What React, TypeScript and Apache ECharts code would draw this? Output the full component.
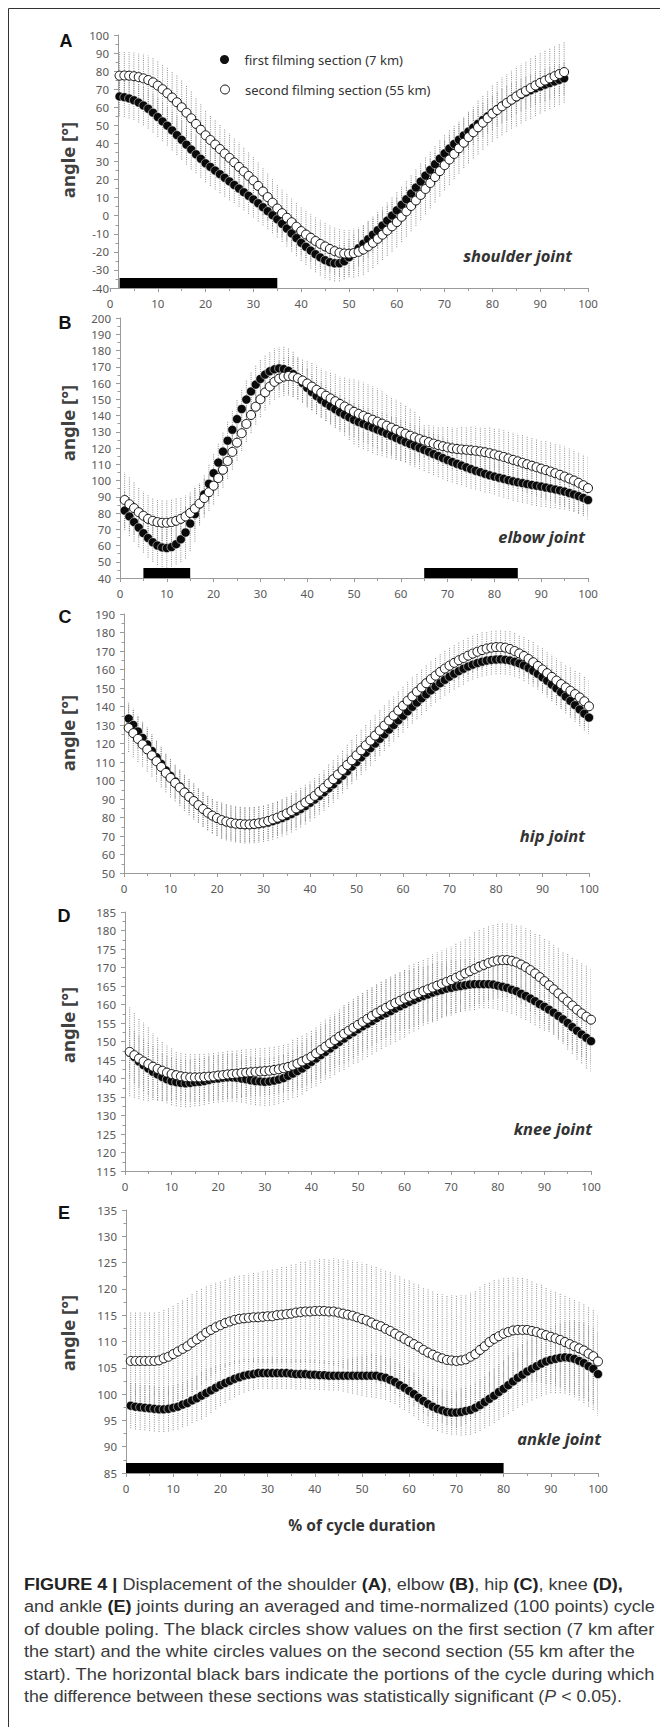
import React, { useEffect, useRef } from "react";
import * as echarts from "echarts";

// ---------------- DATA ----------------
const NAME_FIRST = "first filming section (7 km)";
const NAME_SECOND = "second filming section (55 km)";

// x positions start (each array holds one value per % of cycle)
const SHOULDER_X0 = 2;
const OTHER_X0 = 1;

const xTicks = [0, 10, 20, 30, 40, 50, 60, 70, 80, 90, 100];

// Shoulder (A)
const shoulderFirst = [
  66, 65.6, 64.9, 63.9, 62.6, 61, 59.2, 57, 54.6, 52.2,
  49.8, 47.2, 44.6, 42, 39.3, 36.6, 34, 31.5, 29, 27,
  25, 23, 21, 19, 17, 15, 13, 11, 9, 6.9,
  4.7, 2.5, 0.3, -2, -4.5, -7.1, -9.8, -12.4, -15, -17.2,
  -19.3, -21.3, -23.1, -24.6, -25.7, -26.3, -26.3, -25.2, -23, -20.5,
  -18, -15.5, -13, -10.5, -8, -5.4, -2.7, 0.1, 3, 6,
  9.1, 12.3, 15.6, 18.9, 22.2, 25.4, 28.5, 31.6, 34.5, 37.2,
  39.7, 42.1, 44.4, 46.6, 48.8, 50.9, 53, 55, 57, 58.9,
  60.7, 62.4, 64, 65.5, 66.9, 68.2, 69.4, 70.5, 71.5, 72.5,
  73.4, 74.3, 75.2, 76,
];
const shoulderSecond = [
  77.5, 77.6, 77.5, 77.2, 76.7, 76, 75.1, 73.8, 72, 70,
  67.8, 65.4, 62.8, 60, 57, 53.9, 50.8, 47.6, 44.5, 41.9,
  39.4, 36.9, 34.4, 32, 29.5, 27, 24.5, 22, 19.5, 16.5,
  13.4, 10.3, 7.2, 4, 1.4, -1.1, -3.6, -6.1, -8.5, -10.4,
  -12.2, -14, -15.6, -17, -18.4, -19.6, -20.5, -20.9, -21, -20.7,
  -20, -18.7, -17, -15, -12.8, -10.5, -8.2, -5.9, -3.5, -0.6,
  2.4, 5.4, 8.4, 11.5, 14.8, 18.1, 21.4, 24.7, 28, 31.1,
  34.2, 37.3, 40.4, 43.5, 46.2, 48.9, 51.5, 54, 56.5, 58.5,
  60.5, 62.4, 64.2, 66, 67.6, 69.1, 70.6, 72.1, 73.5, 74.8,
  76, 77.2, 78.4, 79.5,
];
const shoulderSdFirst = [
  11, 11, 11, 11, 11, 11, 11, 11, 11, 11,
  11, 11, 11, 11, 11, 11, 10.5, 10.5, 10.5, 10.5,
  10.5, 10.5, 10.5, 10.5, 10, 10, 10, 10, 10, 10,
  10, 10, 10, 10, 10, 10, 10, 10, 10, 10,
  10, 10, 10, 10, 10, 10, 10, 10, 10, 10,
  10, 10, 10, 10, 10, 10, 10, 10, 10, 10,
  10, 10, 10, 10, 10, 10, 10, 10, 10, 10,
  10, 10, 10, 10, 9.5, 9.5, 9.5, 9.5, 9.5, 9.5,
  9.5, 9.5, 9.5, 9, 9, 9, 9, 9, 9, 9,
  9, 9, 9, 9,
];
const shoulderSdSecond = [
  13, 13, 13, 13, 13, 13.5, 13.5, 14, 14, 14,
  14.5, 14.5, 15, 15, 15, 15, 14.5, 14.5, 14, 14,
  14, 14, 14, 13.5, 13.5, 13.5, 13.5, 13, 13, 13,
  13, 13, 13, 13, 13, 13, 13, 13, 13, 13,
  13, 13, 13, 13, 13, 13, 13, 13, 13, 13.5,
  13.5, 14, 14, 14, 14, 14, 14, 14, 14, 14,
  14, 14, 14, 14, 14, 14, 14, 14, 14, 14,
  14, 14, 14, 14.5, 14.5, 15, 15, 15, 15.5, 15.5,
  16, 16, 16, 16.5, 16.5, 16.5, 17, 17, 17, 17,
  17, 17, 17, 17,
];
const shoulderSignificant = [[2, 35]];

// Elbow (B)
const elbowFirst = [
  81.5, 77.9, 74.4, 71, 67.6, 64.6, 62, 60, 58.8, 58.4,
  59, 60.8, 63.8, 68, 73.5, 79.3, 85.3, 91.5, 98, 104.5,
  111, 117.8, 124.5, 131.2, 137.8, 144, 149.8, 154.8, 159, 162.5,
  165.2, 167.2, 168.4, 169, 168.6, 167.5, 165.5, 163, 160, 157,
  154.4, 152, 149.7, 147.6, 145.6, 143.8, 142, 140.4, 138.8, 137.3,
  136, 134.8, 133.6, 132.5, 131.3, 130.1, 128.8, 127.5, 126.2, 124.9,
  123.7, 122.4, 121.2, 120, 118.8, 117.6, 116.3, 115.1, 113.8, 112.6,
  111.4, 110.3, 109.2, 108.1, 107, 106, 105.1, 104.1, 103.2, 102.4,
  101.7, 101, 100.2, 99.5, 98.9, 98.4, 97.8, 97.3, 96.8, 96.3,
  95.7, 95.1, 94.5, 93.9, 93.2, 92.3, 91.4, 90.4, 89.3, 88,
];
const elbowSecond = [
  88, 85.4, 83, 80.5, 78.3, 76.4, 75.2, 74.4, 74, 74,
  74.4, 75.2, 76.4, 77.9, 80, 82.7, 85.8, 89.2, 92.8, 96.8,
  101.5, 106.6, 112, 117.6, 123.3, 129.1, 134.8, 140.3, 145.4, 150,
  154.2, 157.8, 160.7, 162.7, 163.9, 164.3, 164, 163, 161.5, 159.7,
  157.8, 155.8, 154, 152.2, 150.5, 148.8, 147.1, 145.5, 143.9, 142.3,
  141, 139.8, 138.6, 137.4, 136.2, 135, 133.7, 132.5, 131.2, 130,
  128.8, 127.6, 126.5, 125.5, 124.5, 123.6, 122.7, 121.8, 121.1, 120.4,
  119.8, 119.4, 119.1, 118.9, 118.6, 118.3, 117.9, 117.4, 116.8, 116.1,
  115.3, 114.5, 113.6, 112.7, 111.8, 110.9, 110, 109.1, 108.2, 107.3,
  106.4, 105.5, 104.5, 103.5, 102.4, 101.2, 100, 98.6, 97.1, 95.3,
];
const elbowSdFirst = [
  12, 12, 12, 12, 12, 12, 12, 12, 12, 12,
  12, 12.5, 14, 16, 17, 17, 13, 12, 12, 12,
  12, 12, 12, 12, 12, 12, 12, 12, 12, 12,
  12, 12, 13, 13, 14, 14, 14, 13, 12, 12,
  11, 11, 11, 11, 10.5, 10.5, 10.5, 10.5, 10.5, 10.5,
  11, 11, 11, 11.5, 11.5, 12, 12, 12, 12.5, 12.5,
  12.5, 13, 13, 13, 13, 13, 13, 13, 13, 13,
  12.5, 12.5, 12, 12, 12, 11.5, 11.5, 11.5, 11, 11,
  11.5, 11.5, 11.5, 12, 12, 12, 12, 12.5, 12.5, 12.5,
  12, 12, 11.5, 11.5, 11, 11, 10.5, 10.5, 10, 10,
];
const elbowSdSecond = [
  17, 16.5, 16, 15.5, 15, 14.5, 14, 14, 14, 14,
  14, 14, 13.5, 13, 13, 12.5, 12, 12, 11.5, 11.5,
  11, 11, 11, 11, 11, 11, 11, 11, 11, 11,
  11, 11, 11, 11.5, 12, 12, 12.5, 13, 13.5, 14,
  14.5, 15, 15, 15.5, 16, 16.5, 17, 18, 19, 20,
  20.5, 20.5, 20.5, 20.5, 20.5, 20, 19.5, 19, 18.5, 18,
  17.5, 17, 16, 14, 10, 10.5, 11, 11.5, 12, 12.5,
  13, 13.5, 14, 14, 14.5, 15, 15, 15.5, 16, 16,
  16.5, 16.5, 17, 17, 17, 17.5, 17.5, 17.5, 17.5, 17.5,
  18, 18, 18, 18.5, 18.5, 18.5, 19, 19, 19, 19.5,
];
const elbowSignificant = [[5, 15], [65, 85]];

// Hip (C)
const hipFirst = [
  133.5, 130, 126.5, 123, 119.5, 116, 112.5, 109, 105.5, 102.5,
  99.5, 96.8, 94, 91.5, 89, 86.8, 84.6, 82.6, 81, 79.6,
  78.5, 77.6, 77, 76.5, 76.2, 76, 76, 76.1, 76.4, 76.8,
  77.3, 78, 78.8, 79.7, 80.7, 81.9, 83.2, 84.6, 86.2, 87.9,
  89.7, 91.6, 93.6, 95.7, 97.9, 100.2, 102.6, 105, 107.5, 110,
  112.5, 115, 117.5, 120, 122.5, 125, 127.5, 130, 132.5, 135,
  137.4, 139.8, 142.1, 144.4, 146.6, 148.7, 150.7, 152.6, 154.4, 156.1,
  157.7, 159.1, 160.4, 161.6, 162.6, 163.5, 164.2, 164.8, 165.2, 165.4,
  165.5, 165.3, 164.9, 164.2, 163.3, 162.2, 160.8, 159.3, 157.6, 155.8,
  153.9, 151.9, 149.8, 147.6, 145.3, 143, 140.7, 138.4, 136.1, 134,
];
const hipSecond = [
  128.4, 125.6, 122.5, 119.5, 116.8, 113.6, 110.4, 107.3, 104.1, 101.4,
  98.7, 96.2, 93.5, 91.2, 88.9, 86.7, 84.6, 82.6, 81, 79.7,
  78.6, 77.8, 77.2, 76.7, 76.5, 76.3, 76.3, 76.5, 76.9, 77.4,
  78.1, 79, 79.9, 81, 82.2, 83.5, 84.9, 86.4, 88.1, 89.8,
  91.7, 93.9, 96, 98.4, 100.7, 103.2, 105.7, 108.4, 110.9, 113.6,
  116.3, 119, 121.6, 124.3, 127, 129.7, 132.4, 135.1, 137.8, 140.4,
  143.1, 145.5, 148, 150.3, 152.6, 154.8, 156.7, 158.7, 160.5, 162.1,
  163.6, 165, 166.2, 167.5, 168.6, 169.6, 170.5, 171.3, 171.8, 172.1,
  172.1, 171.8, 171.1, 170, 168.7, 167.3, 165.7, 163.9, 161.9, 160,
  158, 156, 154, 152.1, 150.3, 148.5, 146.7, 144.9, 142.8, 140.1,
];
const hipSdFirst = [
  9, 9, 9, 9, 9, 9, 9, 9, 9, 9,
  9, 9, 9, 9, 9, 9.5, 9.5, 9.5, 9.5, 9.5,
  10, 10, 10, 10, 10, 10, 10, 10, 10, 10,
  10, 10, 10, 10, 10, 10, 10, 10, 10, 10,
  10, 10, 10, 10, 10, 10, 9.5, 9.5, 9.5, 9.5,
  9.5, 9.5, 9.5, 9.5, 9, 9, 9, 9, 9, 9,
  9, 9, 9, 9, 9, 8.5, 8.5, 8.5, 8.5, 8.5,
  8.5, 8.5, 8.5, 8, 8, 8, 8, 8, 8, 8,
  8, 8, 8, 8, 8, 8.5, 8.5, 8.5, 8.5, 8.5,
  9, 9, 9, 9, 9, 9, 9, 9, 9, 9,
];
const hipSdSecond = [
  13, 13, 12.5, 12, 12, 11.5, 11, 11, 10.5, 10.5,
  10, 10, 10, 10, 10, 9.5, 9.5, 9.5, 9.5, 9.5,
  9.5, 9.5, 9.5, 9.5, 9.5, 9.5, 9.5, 9.5, 9.5, 9.5,
  9.5, 9.5, 9.5, 9.5, 9.5, 10, 10, 10, 10, 10,
  10, 10, 10, 10.5, 10.5, 10.5, 10.5, 11, 11, 11,
  11, 11, 11, 11, 11, 11, 11, 10.5, 10.5, 10.5,
  10.5, 10.5, 10, 10, 10, 10, 10, 10, 10, 10,
  10, 10, 10, 10, 10, 10, 10, 9.5, 9.5, 9.5,
  9.5, 9.5, 10, 10, 10, 10.5, 10.5, 11, 11, 11.5,
  11.5, 12, 12, 12.5, 12.5, 13, 13, 13.5, 13.5, 14,
];
const hipSignificant: number[][] = [];

// Knee (D)
const kneeFirst = [
  147, 145.8, 144.6, 143.6, 142.7, 141.8, 141.1, 140.4, 139.8, 139.3,
  139, 138.8, 138.7, 138.8, 139, 139.1, 139.3, 139.6, 139.9, 140,
  140.2, 140.3, 140.3, 140.2, 140, 139.8, 139.5, 139.3, 139.2, 139.1,
  139.2, 139.4, 139.7, 140.1, 140.7, 141.3, 142, 142.7, 143.6, 144.5,
  145.4, 146.3, 147.2, 148.1, 149, 149.9, 150.8, 151.7, 152.5, 153.3,
  154.1, 154.8, 155.5, 156.3, 157, 157.6, 158.2, 158.9, 159.5, 160.1,
  160.7, 161.2, 161.8, 162.3, 162.7, 163.2, 163.6, 163.9, 164.3, 164.5,
  164.8, 165, 165.2, 165.4, 165.5, 165.5, 165.5, 165.5, 165.4, 165.1,
  164.8, 164.5, 164, 163.6, 162.9, 162.3, 161.6, 160.9, 160.1, 159.4,
  158.6, 157.8, 156.9, 156, 155, 153.9, 152.9, 151.9, 151, 150.1,
];
const kneeSecond = [
  147.2, 146.3, 145.4, 144.6, 143.9, 143.2, 142.6, 142.1, 141.6, 141.2,
  140.9, 140.6, 140.4, 140.3, 140.3, 140.3, 140.4, 140.5, 140.6, 140.8,
  140.9, 141.1, 141.2, 141.3, 141.5, 141.6, 141.7, 141.8, 141.9, 142,
  142.1, 142.3, 142.5, 142.8, 143.1, 143.5, 144, 144.6, 145.2, 145.9,
  146.8, 147.7, 148.6, 149.5, 150.4, 151.3, 152.1, 152.9, 153.7, 154.5,
  155.3, 156.1, 156.9, 157.7, 158.4, 159.1, 159.8, 160.4, 161, 161.6,
  162.1, 162.6, 163.1, 163.6, 164.1, 164.6, 165.1, 165.6, 166.1, 166.6,
  167.2, 167.8, 168.4, 169, 169.6, 170.2, 170.7, 171.2, 171.6, 171.9,
  172, 172, 171.8, 171.4, 170.8, 170.1, 169.3, 168.4, 167.4, 166.3,
  165.2, 164.1, 163, 161.9, 160.8, 159.7, 158.6, 157.6, 156.7, 155.9,
];
const kneeSdFirst = [
  7, 7, 7, 7, 7, 7, 7, 6.5, 6.5, 6.5,
  6.5, 6.5, 6.5, 6.5, 6.5, 6.5, 6.5, 6.5, 6.5, 6.5,
  6.5, 6.5, 6.5, 6.5, 6.5, 6.5, 6.5, 6.5, 6.5, 6.5,
  6.5, 6.5, 6.5, 6.5, 6.5, 6.5, 7, 7, 7, 7,
  7.5, 7.5, 7.5, 8, 8, 8, 8.5, 8.5, 8.5, 9,
  9, 9, 9, 9, 9, 9, 9, 9, 9, 9,
  8.5, 8.5, 8.5, 8, 8, 8, 8, 7.5, 7.5, 7.5,
  7, 7, 7, 7, 7, 6.5, 6.5, 6.5, 6.5, 6.5,
  6.5, 6.5, 6.5, 6.5, 6.5, 6.5, 6.5, 6.5, 6.5, 6.5,
  6, 6, 6, 6, 6, 6, 6, 6, 6, 6,
];
const kneeSdSecond = [
  12, 11.5, 11, 10.5, 10, 9, 8.5, 8, 7.5, 7,
  6.5, 6.5, 6.5, 6.5, 6.5, 6.5, 6.5, 6.5, 6.5, 6.5,
  6.5, 6.5, 6.5, 6.5, 6.5, 6.5, 6.5, 6.5, 6.5, 6.5,
  6.5, 6.5, 6.5, 6.5, 6.5, 7, 7, 7, 7, 7,
  7, 7.5, 7.5, 7.5, 7.5, 7.5, 8, 8, 8, 8,
  8, 8, 8, 8, 8, 8, 8, 8, 8, 8,
  8.5, 8.5, 8.5, 8.5, 8.5, 9, 9, 9, 9, 9,
  9.5, 9.5, 9.5, 9.5, 10, 10, 10, 10, 10, 10,
  10, 10, 10, 10, 10.5, 10.5, 11, 11, 11.5, 11.5,
  12, 12, 12.5, 12.5, 13, 13, 13.5, 13.5, 14, 14,
];
const kneeSignificant: number[][] = [];

// Ankle (E)
const ankleFirst = [
  97.8, 97.6, 97.5, 97.4, 97.3, 97.2, 97.1, 97.1, 97.2, 97.4,
  97.6, 98, 98.3, 98.8, 99.2, 99.7, 100.2, 100.7, 101.2, 101.7,
  102.1, 102.5, 102.9, 103.2, 103.5, 103.7, 103.8, 104, 104, 104,
  104, 104, 104, 104, 103.9, 103.8, 103.8, 103.8, 103.7, 103.7,
  103.6, 103.6, 103.5, 103.5, 103.5, 103.5, 103.5, 103.5, 103.5, 103.5,
  103.5, 103.5, 103.5, 103.3, 103.1, 102.7, 102.3, 101.7, 101.2, 100.6,
  100, 99.3, 98.7, 98.1, 97.6, 97.2, 96.9, 96.6, 96.5, 96.5,
  96.6, 96.8, 97, 97.4, 97.9, 98.5, 99.1, 99.7, 100.4, 101,
  101.7, 102.4, 103.1, 103.7, 104.3, 104.8, 105.3, 105.8, 106.2, 106.5,
  106.7, 106.9, 107, 106.9, 106.7, 106.3, 105.9, 105.3, 104.8, 103.8,
];
const ankleSecond = [
  106.3, 106.3, 106.3, 106.3, 106.3, 106.3, 106.4, 106.8, 107.1, 107.6,
  108.1, 108.6, 109.1, 109.8, 110.4, 111, 111.7, 112.2, 112.7, 113.1,
  113.5, 113.8, 114.1, 114.3, 114.4, 114.5, 114.6, 114.6, 114.7, 114.8,
  114.8, 115, 115.1, 115.2, 115.3, 115.5, 115.6, 115.7, 115.7, 115.8,
  115.8, 115.8, 115.7, 115.7, 115.5, 115.3, 115.1, 114.9, 114.6, 114.3,
  114, 113.6, 113.2, 112.9, 112.4, 112, 111.5, 111, 110.5, 110,
  109.5, 109, 108.4, 107.9, 107.5, 107.1, 106.8, 106.5, 106.4, 106.3,
  106.4, 106.6, 107.1, 107.6, 108.4, 109.1, 109.9, 110.5, 111, 111.5,
  111.8, 112.1, 112.2, 112.2, 112.2, 112, 111.8, 111.5, 111.2, 110.9,
  110.6, 110.3, 109.9, 109.5, 109.1, 108.7, 108.3, 107.7, 107.2, 106.2,
];
const ankleSdFirst = [
  4.3, 4.3, 4.3, 4.3, 4.3, 4.3, 4.3, 4.3, 4.3, 4.3,
  4.3, 4.3, 4.3, 4.3, 4.3, 4.5, 4.5, 4.3, 4.1, 4,
  3.8, 3.6, 3.5, 3.3, 3.2, 3.1, 3, 3, 3, 3,
  3, 3, 3, 3, 2.9, 2.9, 2.9, 2.8, 2.8, 2.8,
  2.8, 2.8, 2.8, 2.8, 2.8, 3, 3.2, 3.4, 3.6, 3.8,
  4, 4.1, 4.2, 4.2, 4.2, 4.2, 4.2, 4.2, 4.2, 4.2,
  4.2, 4.2, 4.2, 4.2, 4.2, 4.2, 4.2, 4.2, 4.2, 4.2,
  4.5, 4.6, 4.7, 4.8, 4.9, 5, 5.1, 5.2, 5.3, 5.3,
  5.5, 5.6, 5.7, 5.8, 5.9, 6, 6.1, 6.2, 6.3, 6.3,
  6.5, 6.7, 6.9, 7.1, 7.3, 7.5, 7.6, 7.7, 7.8, 8,
];
const ankleSdSecond = [
  9.4, 9.4, 9.4, 9.4, 9.4, 9.4, 9.4, 9.4, 9.4, 9.4,
  9.4, 9.4, 9.4, 9.4, 9.4, 9.2, 9, 8.8, 8.6, 8.4,
  8.3, 8.3, 8.3, 8.3, 8.3, 8.4, 8.5, 8.6, 8.7, 8.8,
  8.9, 9, 9.1, 9.2, 9.3, 9.4, 9.5, 9.6, 9.7, 9.8,
  9.9, 10, 10, 10.1, 10.2, 10.3, 10.4, 10.5, 10.6, 10.7,
  10.8, 10.9, 11, 11, 11, 11.2, 11.3, 11.4, 11.5, 11.6,
  11.7, 11.8, 11.9, 12, 12, 12.1, 12.2, 12.3, 12.4, 12.5,
  12.4, 12.3, 12.2, 12.1, 12, 11.8, 11.5, 11.2, 10.9, 10.6,
  10.4, 10.2, 10, 10, 9.8, 9.6, 9.4, 9.3, 9.2, 9,
  9, 9, 9, 9, 9, 9, 9, 9, 9, 9,
];
const ankleSignificant = [[0, 80]];

// y-axis ranges per panel
const yMins = [-40, 40, 50, 115, 85];
const yMaxs = [100, 200, 190, 185, 135];
const yIntervals = [10, 10, 10, 5, 5];
const panelLetters = ["A", "B", "C", "D", "E"];
const jointLabels = ["shoulder joint", "elbow joint", "hip joint", "knee joint", "ankle joint"];

const captionLines = [
  "{b|FIGURE 4 |} Displacement of the shoulder {b|(A)}, elbow {b|(B)}, hip {b|(C)}, knee {b|(D),}",
  "and ankle {b|(E)} joints during an averaged and time-normalized (100 points) cycle",
  "of double poling. The black circles show values on the first section (7 km after",
  "the start) and the white circles values on the second section (55 km after the",
  "start). The horizontal black bars indicate the portions of the cycle during which",
  "the difference between these sections was statistically significant ({i|P} < 0.05).",
];

// ---------------- LAYOUT / STYLE ----------------
const FONT = "'Noto Sans', 'DejaVu Sans', sans-serif";
const CAP_FONT = "'Liberation Sans', Arial, sans-serif";
const CAP_SIZE = 16;
const CAP_LEFT = 24;
const CAP_ENDS = [623, 655, 655, 635, 655, 622];
const AXIS_COLOR = "#9a9a9a";
const LABEL_COLOR = "#595959";
const ERR_COLOR = "#707070";

const LAYOUT = [
  { left: 110, top: 35, width: 478, height: 253, yOffset: -8, letterX: 66, letterY: 41, angleY: 160, jointX: 572, jointY: 255 },
  { left: 120, top: 318, width: 468, height: 260, yOffset: 0, letterX: 65, letterY: 323, angleY: 423, jointX: 585, jointY: 536 },
  { left: 124, top: 614, width: 465, height: 259, yOffset: 0, letterX: 65, letterY: 617, angleY: 733, jointX: 585, jointY: 835 },
  { left: 125, top: 912, width: 466, height: 259, yOffset: 0, letterX: 64, letterY: 916, angleY: 1025, jointX: 592, jointY: 1128 },
  { left: 126, top: 1210, width: 472, height: 263, yOffset: 0, letterX: 64, letterY: 1213, angleY: 1333, jointX: 601, jointY: 1438 },
];

const PANELS = [
  { x0: SHOULDER_X0, first: shoulderFirst, second: shoulderSecond, sdFirst: shoulderSdFirst, sdSecond: shoulderSdSecond, sig: shoulderSignificant },
  { x0: OTHER_X0, first: elbowFirst, second: elbowSecond, sdFirst: elbowSdFirst, sdSecond: elbowSdSecond, sig: elbowSignificant },
  { x0: OTHER_X0, first: hipFirst, second: hipSecond, sdFirst: hipSdFirst, sdSecond: hipSdSecond, sig: hipSignificant },
  { x0: OTHER_X0, first: kneeFirst, second: kneeSecond, sdFirst: kneeSdFirst, sdSecond: kneeSdSecond, sig: kneeSignificant },
  { x0: OTHER_X0, first: ankleFirst, second: ankleSecond, sdFirst: ankleSdFirst, sdSecond: ankleSdSecond, sig: ankleSignificant },
];

function measureRich(line: string, size: number): number {
  try {
    const canvas = document.createElement("canvas");
    const ctx = canvas.getContext("2d");
    if (!ctx) return 0;
    const re = /\{(\w+)\|([^}]*)\}/g;
    let w = 0;
    let last = 0;
    let m: RegExpExecArray | null;
    while ((m = re.exec(line))) {
      ctx.font = `${size}px ${CAP_FONT}`;
      w += ctx.measureText(line.slice(last, m.index)).width;
      ctx.font = m[1] === "b" ? `bold ${size}px ${CAP_FONT}` : `italic ${size}px ${CAP_FONT}`;
      w += ctx.measureText(m[2]).width;
      last = re.lastIndex;
    }
    ctx.font = `${size}px ${CAP_FONT}`;
    w += ctx.measureText(line.slice(last)).width;
    return w;
  } catch (e) {
    return 0;
  }
}

function errorSeries(mean: number[], sd: number[], x0: number, idx: number) {
  return {
    type: "custom",
    xAxisIndex: idx,
    yAxisIndex: idx,
    z: 1,
    silent: true,
    clip: true,
    data: mean.map((m, i) => [x0 + i, m - sd[i], m + sd[i]]),
    encode: { x: 0, y: [1, 2] },
    renderItem: (_params: any, api: any) => {
      const a = api.coord([api.value(0), api.value(1)]);
      const b = api.coord([api.value(0), api.value(2)]);
      return {
        type: "line",
        shape: { x1: a[0], y1: a[1], x2: b[0], y2: b[1] },
        style: { stroke: ERR_COLOR, lineWidth: 0.8, lineDash: [1, 1.2] },
      };
    },
  };
}

function sigSeries(sig: number[][], yMin: number, idx: number) {
  return {
    type: "custom",
    xAxisIndex: idx,
    yAxisIndex: idx,
    z: 2,
    silent: true,
    data: sig.map((s) => [s[0], s[1], yMin]),
    encode: { x: [0, 1], y: 2 },
    renderItem: (_params: any, api: any) => {
      const a = api.coord([api.value(0), api.value(2)]);
      const b = api.coord([api.value(1), api.value(2)]);
      return {
        type: "rect",
        shape: { x: a[0], y: a[1] - 10, width: b[0] - a[0], height: 10 },
        style: { fill: "#000" },
      };
    },
  };
}

function scatterSeries(mean: number[], x0: number, idx: number, black: boolean) {
  return {
    type: "scatter",
    name: black ? NAME_FIRST : NAME_SECOND,
    xAxisIndex: idx,
    yAxisIndex: idx,
    z: black ? 3 : 4,
    silent: true,
    symbol: "circle",
    symbolSize: 9,
    data: mean.map((m, i) => [x0 + i, m]),
    itemStyle: black
      ? { color: "#0a0a0a", borderColor: "#ffffff", borderWidth: 0.5, opacity: 1 }
      : { color: "#ffffff", borderColor: "#111", borderWidth: 1, opacity: 1 },
    emphasis: { disabled: true },
  };
}

function buildOption() {
  const grid = LAYOUT.map((l) => ({
    left: l.left,
    top: l.top,
    width: l.width,
    height: l.height,
    containLabel: false,
    outerBoundsMode: "none",
  }));
  const xAxis = LAYOUT.map((_l, i) => ({
    type: "value",
    gridIndex: i,
    min: 0,
    max: 100,
    interval: 10,
    axisLine: { show: true, onZero: false, lineStyle: { color: AXIS_COLOR, width: 1 } },
    axisTick: { show: true, length: 4, lineStyle: { color: AXIS_COLOR } },
    minorTick: { show: true, splitNumber: 2, length: 3, lineStyle: { color: AXIS_COLOR } },
    splitLine: { show: false },
    minorSplitLine: { show: false },
    axisLabel: {
      color: LABEL_COLOR,
      fontSize: 11.5,
      fontFamily: FONT,
      margin: 9,
      formatter: (v: number) => (xTicks.indexOf(v) >= 0 ? String(v) : ""),
    },
  }));
  const yAxis = LAYOUT.map((l, i) => ({
    type: "value",
    gridIndex: i,
    min: yMins[i],
    max: yMaxs[i],
    interval: yIntervals[i],
    offset: l.yOffset,
    axisLine: { show: true, onZero: false, lineStyle: { color: AXIS_COLOR, width: 1 } },
    axisTick: { show: true, length: 4, lineStyle: { color: AXIS_COLOR } },
    minorTick: { show: true, splitNumber: 2, length: 2.5, lineStyle: { color: AXIS_COLOR } },
    splitLine: { show: false },
    minorSplitLine: { show: false },
    axisLabel: { color: LABEL_COLOR, fontSize: 11.5, fontFamily: FONT, margin: 9 },
  }));

  const series: any[] = [];
  PANELS.forEach((p, i) => {
    series.push(errorSeries(p.first, p.sdFirst, p.x0, i));
    series.push(errorSeries(p.second, p.sdSecond, p.x0, i));
    if (p.sig.length) series.push(sigSeries(p.sig, yMins[i], i));
    series.push(scatterSeries(p.first, p.x0, i, true));
    series.push(scatterSeries(p.second, p.x0, i, false));
  });

  const graphic: any[] = [
    {
      type: "rect",
      silent: true,
      shape: { x: 8.5, y: 8.5, width: 720, height: 1800 },
      style: { fill: "none", stroke: "#333", lineWidth: 1 },
    },
  ];
  LAYOUT.forEach((l, i) => {
    graphic.push({
      type: "text",
      x: l.letterX,
      y: l.letterY,
      silent: true,
      style: {
        text: panelLetters[i],
        fontSize: 18,
        fontWeight: "bold",
        fontFamily: CAP_FONT,
        fill: "#111",
        align: "center",
        verticalAlign: "middle",
        textAlign: "center",
        textVerticalAlign: "middle",
      },
    });
    graphic.push({
      type: "text",
      x: 67,
      y: l.angleY,
      rotation: Math.PI / 2,
      silent: true,
      style: {
        text: "angle [°]",
        fontSize: 18.5,
        fontWeight: "bold",
        fontFamily: FONT,
        fill: "#404040",
        align: "center",
        verticalAlign: "middle",
        textAlign: "center",
        textVerticalAlign: "middle",
      },
    });
    graphic.push({
      type: "text",
      x: l.jointX,
      y: l.jointY,
      silent: true,
      style: {
        text: jointLabels[i],
        fontSize: 16.5,
        fontWeight: "bold",
        fontStyle: "italic",
        fontFamily: FONT,
        fill: "#333",
        align: "right",
        verticalAlign: "middle",
        textAlign: "right",
        textVerticalAlign: "middle",
      },
    });
  });
  graphic.push({
    type: "text",
    x: 362,
    y: 1525,
    silent: true,
    style: {
      text: "% of cycle duration",
      fontSize: 15.5,
      fontWeight: "bold",
      fontFamily: FONT,
      fill: "#333",
      align: "center",
      verticalAlign: "middle",
      textAlign: "center",
      textVerticalAlign: "middle",
    },
  });
  const capRich = {
    b: { fontWeight: "bold", fontSize: CAP_SIZE, fontFamily: CAP_FONT, fill: "#222" },
    i: { fontStyle: "italic", fontSize: CAP_SIZE, fontFamily: CAP_FONT, fill: "#3a3a3a" },
  };
  captionLines.forEach((line, k) => {
    const measured = measureRich(line, CAP_SIZE);
    let sx = measured > 0 ? (CAP_ENDS[k] - CAP_LEFT) / measured : 1;
    sx = Math.max(0.85, Math.min(1.2, sx));
    graphic.push({
      type: "text",
      x: CAP_LEFT,
      y: 1585 + k * 22.3,
      scaleX: sx,
      silent: true,
      style: {
        text: line,
        rich: capRich,
        fontSize: CAP_SIZE,
        fontFamily: CAP_FONT,
        fill: "#3a3a3a",
        align: "left",
        verticalAlign: "middle",
        textAlign: "left",
        textVerticalAlign: "middle",
      },
    });
  });

  const legendBase = {
    orient: "vertical",
    selectedMode: false,
    itemWidth: 30,
    itemHeight: 9,
    itemGap: 0,
    textStyle: { fontFamily: FONT, fontSize: 13, color: "#333" },
  };

  return {
    animation: false,
    backgroundColor: "#ffffff",
    grid,
    xAxis,
    yAxis,
    series,
    graphic,
    legend: [
      { ...legendBase, data: [NAME_FIRST], left: 215, top: 48, itemStyle: { color: "#111", borderColor: "#111", borderWidth: 0 } },
      { ...legendBase, data: [NAME_SECOND], left: 215, top: 78, itemStyle: { color: "#fff", borderColor: "#111", borderWidth: 1 } },
    ],
  };
}

export default function App() {
  const ref = useRef<HTMLDivElement>(null);
  useEffect(() => {
    if (!ref.current) return;
    const chart = echarts.init(ref.current, null, { renderer: "svg", width: 660, height: 1727 });
    chart.setOption(buildOption() as any);
    return () => {
      chart.dispose();
    };
  }, []);
  return (
    <div
      ref={ref}
      style={{ position: "absolute", left: 0, top: 0, width: 660, height: 1727, background: "#fff" }}
    />
  );
}
